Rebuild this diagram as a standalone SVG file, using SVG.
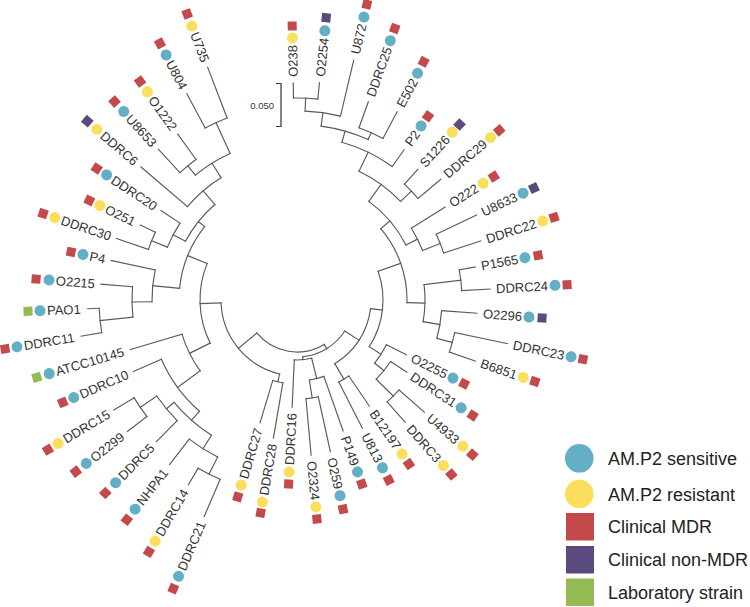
<svg xmlns="http://www.w3.org/2000/svg" width="750" height="607" viewBox="0 0 750 607">
<style>
.t{font-family:"Liberation Sans",Arial,Helvetica,sans-serif;font-size:13px;fill:#333}
.r{text-anchor:end}
.b{fill:#62AFC6}.y{fill:#FBDF5C}.m{fill:#C4494B}.p{fill:#5B4A7E}.g{fill:#94BA53}
.lg{font-family:"Liberation Sans",Arial,Helvetica,sans-serif;font-size:18px;fill:#222}
#connectors circle,#connectors path{fill:none;stroke:#5a5a5a;stroke-width:1.15;stroke-linecap:square}
</style>
<rect width="750" height="607" fill="#fff"/>
<g id="connectors" transform="translate(297,300)">
<circle r="202" stroke-dasharray="24.33 5000" transform="rotate(-91)"/>
<circle r="189" stroke-dasharray="35.79 5000" transform="rotate(-87.55)"/>
<circle r="183" stroke-dasharray="26.19 5000" transform="rotate(-70.2)"/>
<circle r="175.5" stroke-dasharray="49.01 5000" transform="rotate(-82.1)"/>
<circle r="164" stroke-dasharray="56.1 5000" transform="rotate(-74.1)"/>
<circle r="158" stroke-dasharray="19.85 5000" transform="rotate(-47.2)"/>
<circle r="143" stroke-dasharray="51.66 5000" transform="rotate(-64.3)"/>
<circle r="154" stroke-dasharray="20.16 5000" transform="rotate(-25.3)"/>
<circle r="135" stroke-dasharray="24.86 5000" transform="rotate(-32.1)"/>
<circle r="122" stroke-dasharray="57.81 5000" transform="rotate(-53.95)"/>
<circle r="165" stroke-dasharray="20.88 5000" transform="rotate(-10.5)"/>
<circle r="161" stroke-dasharray="20.23 5000" transform="rotate(11.7)"/>
<circle r="145" stroke-dasharray="28.09 5000" transform="rotate(4.2)"/>
<circle r="128" stroke-dasharray="37.2 5000" transform="rotate(-6.9)"/>
<circle r="110" stroke-dasharray="80.25 5000" transform="rotate(-40.4)"/>
<circle r="136" stroke-dasharray="16.85 5000" transform="rotate(41.4)"/>
<circle r="112" stroke-dasharray="22.77 5000" transform="rotate(33.3)"/>
<circle r="100" stroke-dasharray="21.82 5000" transform="rotate(26.6)"/>
<circle r="86" stroke-dasharray="78.58 5000" transform="rotate(-19.5)"/>
<circle r="92" stroke-dasharray="11.72 5000" transform="rotate(55.7)"/>
<circle r="99" stroke-dasharray="12.44 5000" transform="rotate(77.6)"/>
<circle r="81" stroke-dasharray="14.99 5000" transform="rotate(70.6)"/>
<circle r="74" stroke-dasharray="68 5000" transform="rotate(6.7)"/>
<circle r="84" stroke-dasharray="10.34 5000" transform="rotate(99.7)"/>
<circle r="60" stroke-dasharray="17.49 5000" transform="rotate(75.9)"/>
<circle r="57" stroke-dasharray="50.99 5000" transform="rotate(33)"/>
<circle r="195" stroke-dasharray="24.67 5000" transform="rotate(113.2)"/>
<circle r="176" stroke-dasharray="33.64 5000" transform="rotate(116.8)"/>
<circle r="190" stroke-dasharray="22.55 5000" transform="rotate(142.2)"/>
<circle r="170" stroke-dasharray="32.04 5000" transform="rotate(134.8)"/>
<circle r="160" stroke-dasharray="49.99 5000" transform="rotate(122.3)"/>
<circle r="148" stroke-dasharray="64.96 5000" transform="rotate(131.25)"/>
<circle r="120" stroke-dasharray="41.15 5000" transform="rotate(143.8)"/>
<circle r="198" stroke-dasharray="24.54 5000" transform="rotate(170.5)"/>
<circle r="165" stroke-dasharray="30.38 5000" transform="rotate(174.05)"/>
<circle r="145" stroke-dasharray="32.14 5000" transform="rotate(179.3)"/>
<circle r="157" stroke-dasharray="18.63 5000" transform="rotate(198.8)"/>
<circle r="140" stroke-dasharray="27.12 5000" transform="rotate(202.2)"/>
<circle r="195" stroke-dasharray="24.16 5000" transform="rotate(241.9)"/>
<circle r="173" stroke-dasharray="20.83 5000" transform="rotate(227.4)"/>
<circle r="161" stroke-dasharray="41.03 5000" transform="rotate(230.85)"/>
<circle r="144" stroke-dasharray="44.48 5000" transform="rotate(220.45)"/>
<circle r="126" stroke-dasharray="47.39 5000" transform="rotate(207.75)"/>
<circle r="118" stroke-dasharray="67.65 5000" transform="rotate(185.65)"/>
<circle r="97" stroke-dasharray="82.11 5000" transform="rotate(153.6)"/>
<circle r="76" stroke-dasharray="99.02 5000" transform="rotate(103.2)"/>
<circle r="52" stroke-dasharray="74.33 5000" transform="rotate(58.6)"/>
<path d="M202 0H217" transform="rotate(-91)"/>
<path d="M202 0H218.5" transform="rotate(-84.1)"/>
<path d="M189 0H246.5" transform="rotate(-76.7)"/>
<path d="M183 0H210.6" transform="rotate(-70.2)"/>
<path d="M183 0H213.2" transform="rotate(-62)"/>
<path d="M164 0H184.6" transform="rotate(-54.5)"/>
<path d="M158 0H178" transform="rotate(-47.2)"/>
<path d="M158 0H187.6" transform="rotate(-40)"/>
<path d="M135 0H174.8" transform="rotate(-32.1)"/>
<path d="M154 0H198.7" transform="rotate(-25.3)"/>
<path d="M154 0H193" transform="rotate(-17.8)"/>
<path d="M165 0H181.2" transform="rotate(-10.5)"/>
<path d="M165 0H193.4" transform="rotate(-3.25)"/>
<path d="M145 0H180.5" transform="rotate(4.2)"/>
<path d="M161 0H214.9" transform="rotate(11.7)"/>
<path d="M161 0H188.5" transform="rotate(18.9)"/>
<path d="M100 0H122.3" transform="rotate(26.6)"/>
<path d="M112 0H131.4" transform="rotate(33.3)"/>
<path d="M136 0H169.8" transform="rotate(41.4)"/>
<path d="M136 0H163.2" transform="rotate(48.5)"/>
<path d="M92 0H128.6" transform="rotate(55.7)"/>
<path d="M92 0H144" transform="rotate(63)"/>
<path d="M81 0H138.8" transform="rotate(70.6)"/>
<path d="M99 0H155.5" transform="rotate(77.6)"/>
<path d="M99 0H155.8" transform="rotate(84.8)"/>
<path d="M60 0H107.2" transform="rotate(92.6)"/>
<path d="M84 0H140" transform="rotate(99.7)"/>
<path d="M84 0H128.3" transform="rotate(106.75)"/>
<path d="M195 0H235.6" transform="rotate(113.2)"/>
<path d="M195 0H214.7" transform="rotate(120.45)"/>
<path d="M176 0H208" transform="rotate(127.75)"/>
<path d="M170 0H199.6" transform="rotate(134.8)"/>
<path d="M190 0H214.5" transform="rotate(142.2)"/>
<path d="M190 0H213.6" transform="rotate(149)"/>
<path d="M148 0H178.6" transform="rotate(156.4)"/>
<path d="M120 0H174" transform="rotate(163.45)"/>
<path d="M198 0H218.9" transform="rotate(170.5)"/>
<path d="M198 0H209.5" transform="rotate(177.6)"/>
<path d="M165 0H196.7" transform="rotate(184.6)"/>
<path d="M145 0H190" transform="rotate(192)"/>
<path d="M157 0H190.8" transform="rotate(198.8)"/>
<path d="M157 0H173.8" transform="rotate(205.6)"/>
<path d="M140 0H162.8" transform="rotate(213.3)"/>
<path d="M144 0H205.2" transform="rotate(220.45)"/>
<path d="M173 0H204.7" transform="rotate(227.4)"/>
<path d="M173 0H204.3" transform="rotate(234.3)"/>
<path d="M195 0H233.8" transform="rotate(241.9)"/>
<path d="M195 0H249.4" transform="rotate(249)"/>
<path d="M189 0H202" transform="rotate(-87.55)"/>
<path d="M175.5 0H189" transform="rotate(-82.1)"/>
<path d="M175.5 0H183" transform="rotate(-66.1)"/>
<path d="M164 0H175.5" transform="rotate(-74.1)"/>
<path d="M143 0H164" transform="rotate(-64.3)"/>
<path d="M143 0H158" transform="rotate(-43.6)"/>
<path d="M122 0H143" transform="rotate(-53.95)"/>
<path d="M135 0H154" transform="rotate(-21.55)"/>
<path d="M122 0H135" transform="rotate(-26.8)"/>
<path d="M110 0H122" transform="rotate(-40.4)"/>
<path d="M128 0H165" transform="rotate(-6.9)"/>
<path d="M145 0H161" transform="rotate(15.3)"/>
<path d="M128 0H145" transform="rotate(9.75)"/>
<path d="M110 0H128" transform="rotate(1.4)"/>
<path d="M86 0H110" transform="rotate(-19.5)"/>
<path d="M112 0H136" transform="rotate(44.95)"/>
<path d="M100 0H112" transform="rotate(39.1)"/>
<path d="M86 0H100" transform="rotate(32.85)"/>
<path d="M74 0H86" transform="rotate(6.7)"/>
<path d="M74 0H92" transform="rotate(59.35)"/>
<path d="M81 0H99" transform="rotate(81.2)"/>
<path d="M60 0H81" transform="rotate(75.9)"/>
<path d="M57 0H74" transform="rotate(33)"/>
<path d="M57 0H60" transform="rotate(84.25)"/>
<path d="M52 0H57" transform="rotate(58.6)"/>
<path d="M76 0H84" transform="rotate(103.2)"/>
<path d="M176 0H195" transform="rotate(116.8)"/>
<path d="M160 0H176" transform="rotate(122.3)"/>
<path d="M170 0H190" transform="rotate(145.6)"/>
<path d="M160 0H170" transform="rotate(140.2)"/>
<path d="M148 0H160" transform="rotate(131.25)"/>
<path d="M120 0H148" transform="rotate(143.8)"/>
<path d="M97 0H120" transform="rotate(153.6)"/>
<path d="M165 0H198" transform="rotate(174.05)"/>
<path d="M145 0H165" transform="rotate(179.3)"/>
<path d="M118 0H145" transform="rotate(185.65)"/>
<path d="M140 0H157" transform="rotate(202.2)"/>
<path d="M126 0H140" transform="rotate(207.75)"/>
<path d="M161 0H195" transform="rotate(245.45)"/>
<path d="M161 0H173" transform="rotate(230.85)"/>
<path d="M144 0H161" transform="rotate(238.15)"/>
<path d="M126 0H144" transform="rotate(229.3)"/>
<path d="M118 0H126" transform="rotate(218.5)"/>
<path d="M97 0H118" transform="rotate(202.1)"/>
<path d="M76 0H97" transform="rotate(177.85)"/>
<path d="M52 0H76" transform="rotate(140.5)"/>
</g>
<g id="leaves" transform="translate(297,300)">
<g id="n-O238" transform="rotate(-91)"><text class="t r" x="255" y="4.6">O238</text><circle class="y" cx="262" r="5.5"/><rect class="m" x="269.5" y="-4.5" width="9" height="9"/></g>
<g id="n-O2254" transform="rotate(-84.1)"><text class="t r" x="263.6" y="4.6">O2254</text><circle class="b" cx="270.6" r="5.5"/><rect class="p" x="279.2" y="-4.5" width="9" height="9"/></g>
<g id="n-U872" transform="rotate(-76.7)"><text class="t r" x="283.8" y="4.6">U872</text><circle class="b" cx="290.8" r="5.5"/><rect class="m" x="299.2" y="-4.5" width="9" height="9"/></g>
<g id="n-DDRC25" transform="rotate(-70.2)"><text class="t r" x="268.6" y="4.6">DDRC25</text><circle class="b" cx="275.6" r="5.5"/><rect class="m" x="284.1" y="-4.5" width="9" height="9"/></g>
<g id="n-E502" transform="rotate(-62)"><text class="t r" x="249.8" y="4.6">E502</text><circle class="b" cx="256.8" r="5.5"/><rect class="m" x="265.3" y="-4.5" width="9" height="9"/></g>
<g id="n-P2" transform="rotate(-54.5)"><text class="t r" x="206.7" y="4.6">P2</text><circle class="b" cx="213.7" r="5.5"/><rect class="m" x="221.1" y="-4.5" width="9" height="9"/></g>
<g id="n-S1226" transform="rotate(-47.2)"><text class="t r" x="221.6" y="4.6">S1226</text><circle class="y" cx="228.6" r="5.5"/><rect class="p" x="234.7" y="-4.5" width="9" height="9"/></g>
<g id="n-DDRC29" transform="rotate(-40)"><text class="t r" x="245.6" y="4.6">DDRC29</text><circle class="y" cx="252.6" r="5.5"/><rect class="m" x="259.5" y="-4.5" width="9" height="9"/></g>
<g id="n-O222" transform="rotate(-32.1)"><text class="t r" x="212.7" y="4.6">O222</text><circle class="y" cx="219.7" r="5.5"/><rect class="m" x="227.8" y="-4.5" width="9" height="9"/></g>
<g id="n-U8633" transform="rotate(-25.3)"><text class="t r" x="243" y="4.6">U8633</text><circle class="b" cx="250" r="5.5"/><rect class="p" x="257.5" y="-4.5" width="9" height="9"/></g>
<g id="n-DDRC22" transform="rotate(-17.8)"><text class="t r" x="251" y="4.6">DDRC22</text><circle class="y" cx="258" r="5.5"/><rect class="m" x="265.5" y="-4.5" width="9" height="9"/></g>
<g id="n-P1565" transform="rotate(-10.5)"><text class="t r" x="224.8" y="4.6">P1565</text><circle class="b" cx="231.8" r="5.5"/><rect class="m" x="240.7" y="-4.5" width="9" height="9"/></g>
<g id="n-DDRC24" transform="rotate(-3.25)"><text class="t r" x="251.4" y="4.6">DDRC24</text><circle class="b" cx="258.4" r="5.5"/><rect class="m" x="266" y="-4.5" width="9" height="9"/></g>
<g id="n-O2296" transform="rotate(4.2)"><text class="t r" x="225.6" y="4.6">O2296</text><circle class="b" cx="232.6" r="5.5"/><rect class="p" x="241.2" y="-4.5" width="9" height="9"/></g>
<g id="n-DDRC23" transform="rotate(11.7)"><text class="t r" x="272.9" y="4.6">DDRC23</text><circle class="b" cx="279.9" r="5.5"/><rect class="m" x="287.5" y="-4.5" width="9" height="9"/></g>
<g id="n-B6851" transform="rotate(18.9)"><text class="t r" x="232.1" y="4.6">B6851</text><circle class="y" cx="239.1" r="5.5"/><rect class="m" x="246.9" y="-4.5" width="9" height="9"/></g>
<g id="n-O2255" transform="rotate(26.6)"><text class="t r" x="167.4" y="4.6">O2255</text><circle class="b" cx="174.4" r="5.5"/><rect class="m" x="182.4" y="-4.5" width="9" height="9"/></g>
<g id="n-DDRC31" transform="rotate(33.3)"><text class="t r" x="189.4" y="4.6">DDRC31</text><circle class="b" cx="196.4" r="5.5"/><rect class="m" x="205.7" y="-4.5" width="9" height="9"/></g>
<g id="n-U4933" transform="rotate(41.4)"><text class="t r" x="214.1" y="4.6">U4933</text><circle class="y" cx="221.1" r="5.5"/><rect class="m" x="229.3" y="-4.5" width="9" height="9"/></g>
<g id="n-DDRC3" transform="rotate(48.5)"><text class="t r" x="214" y="4.6">DDRC3</text><circle class="y" cx="221" r="5.5"/><rect class="m" x="228.5" y="-4.5" width="9" height="9"/></g>
<g id="n-B12197" transform="rotate(55.7)"><text class="t r" x="179.4" y="4.6">B12197</text><circle class="y" cx="186.4" r="5.5"/><rect class="m" x="194.1" y="-4.5" width="9" height="9"/></g>
<g id="n-U813" transform="rotate(63)"><text class="t r" x="181.3" y="4.6">U813</text><circle class="b" cx="188.3" r="5.5"/><rect class="m" x="197.6" y="-4.5" width="9" height="9"/></g>
<g id="n-P149" transform="rotate(70.6)"><text class="t r" x="175.2" y="4.6">P149</text><circle class="b" cx="182.2" r="5.5"/><rect class="m" x="190.6" y="-4.5" width="9" height="9"/></g>
<g id="n-O259" transform="rotate(77.6)"><text class="t r" x="193.4" y="4.6">O259</text><circle class="b" cx="200.4" r="5.5"/><rect class="m" x="209.7" y="-4.5" width="9" height="9"/></g>
<g id="n-O2324" transform="rotate(84.8)"><text class="t r" x="200.9" y="4.6">O2324</text><circle class="y" cx="207.9" r="5.5"/><rect class="m" x="215.4" y="-4.5" width="9" height="9"/></g>
<g id="n-DDRC16"><text class="t" transform="rotate(-87.4)" x="-165.2" y="4.6">DDRC16</text><g transform="rotate(92.6)"><circle class="y" cx="172.2" r="5.5"/><rect class="m" x="179.7" y="-4.5" width="9" height="9"/></g></g>
<g id="n-DDRC28"><text class="t" transform="rotate(-80.3)" x="-198" y="4.6">DDRC28</text><g transform="rotate(99.7)"><circle class="y" cx="205" r="5.5"/><rect class="m" x="211.5" y="-4.5" width="9" height="9"/></g></g>
<g id="n-DDRC27"><text class="t" transform="rotate(-73.25)" x="-186.3" y="4.6">DDRC27</text><g transform="rotate(106.75)"><circle class="y" cx="193.3" r="5.5"/><rect class="m" x="201.1" y="-4.5" width="9" height="9"/></g></g>
<g id="n-DDRC21"><text class="t" transform="rotate(-66.8)" x="-293.6" y="4.6">DDRC21</text><g transform="rotate(113.2)"><circle class="b" cx="300.6" r="5.5"/><rect class="m" x="309.5" y="-4.5" width="9" height="9"/></g></g>
<g id="n-DDRC14"><text class="t" transform="rotate(-59.55)" x="-272.7" y="4.6">DDRC14</text><g transform="rotate(120.45)"><circle class="y" cx="279.7" r="5.5"/><rect class="m" x="287.7" y="-4.5" width="9" height="9"/></g></g>
<g id="n-NHPA1"><text class="t" transform="rotate(-52.25)" x="-257.5" y="4.6">NHPA1</text><g transform="rotate(127.75)"><circle class="b" cx="264.5" r="5.5"/><rect class="m" x="273.5" y="-4.5" width="9" height="9"/></g></g>
<g id="n-DDRC5"><text class="t" transform="rotate(-45.2)" x="-250.4" y="4.6">DDRC5</text><g transform="rotate(134.8)"><circle class="b" cx="257.4" r="5.5"/><rect class="m" x="267.5" y="-4.5" width="9" height="9"/></g></g>
<g id="n-O2299"><text class="t" transform="rotate(-37.8)" x="-259.6" y="4.6">O2299</text><g transform="rotate(142.2)"><circle class="b" cx="266.6" r="5.5"/><rect class="m" x="275.5" y="-4.5" width="9" height="9"/></g></g>
<g id="n-DDRC15"><text class="t" transform="rotate(-31)" x="-271.6" y="4.6">DDRC15</text><g transform="rotate(149)"><circle class="y" cx="278.6" r="5.5"/><rect class="m" x="286.1" y="-4.5" width="9" height="9"/></g></g>
<g id="n-DDRC10"><text class="t" transform="rotate(-23.6)" x="-236.6" y="4.6">DDRC10</text><g transform="rotate(156.4)"><circle class="b" cx="243.6" r="5.5"/><rect class="m" x="251.1" y="-4.5" width="9" height="9"/></g></g>
<g id="n-ATCC10145"><text class="t" transform="rotate(-16.55)" x="-251.5" y="4.6">ATCC10145</text><g transform="rotate(163.45)"><circle class="b" cx="258.5" r="5.5"/><rect class="g" x="266.9" y="-4.5" width="9" height="9"/></g></g>
<g id="n-DDRC11"><text class="t" transform="rotate(-9.5)" x="-276.9" y="4.6">DDRC11</text><g transform="rotate(170.5)"><circle class="b" cx="283.9" r="5.5"/><rect class="m" x="291.5" y="-4.5" width="9" height="9"/></g></g>
<g id="n-PAO1"><text class="t" transform="rotate(-2.4)" x="-250.2" y="4.6">PAO1</text><g transform="rotate(177.6)"><circle class="b" cx="257.2" r="5.5"/><rect class="g" x="264.7" y="-4.5" width="9" height="9"/></g></g>
<g id="n-O2215"><text class="t" transform="rotate(4.6)" x="-241.8" y="4.6">O2215</text><g transform="rotate(184.6)"><circle class="b" cx="248.8" r="5.5"/><rect class="m" x="257.3" y="-4.5" width="9" height="9"/></g></g>
<g id="n-P4"><text class="t" transform="rotate(12)" x="-211.9" y="4.6">P4</text><g transform="rotate(192)"><circle class="b" cx="218.9" r="5.5"/><rect class="m" x="226.5" y="-4.5" width="9" height="9"/></g></g>
<g id="n-DDRC30"><text class="t" transform="rotate(18.8)" x="-248.8" y="4.6">DDRC30</text><g transform="rotate(198.8)"><circle class="y" cx="255.8" r="5.5"/><rect class="m" x="263.7" y="-4.5" width="9" height="9"/></g></g>
<g id="n-O251"><text class="t" transform="rotate(25.6)" x="-211.7" y="4.6">O251</text><g transform="rotate(205.6)"><circle class="y" cx="218.7" r="5.5"/><rect class="m" x="225.8" y="-4.5" width="9" height="9"/></g></g>
<g id="n-DDRC20"><text class="t" transform="rotate(33.3)" x="-220.8" y="4.6">DDRC20</text><g transform="rotate(213.3)"><circle class="b" cx="227.8" r="5.5"/><rect class="m" x="235.1" y="-4.5" width="9" height="9"/></g></g>
<g id="n-DDRC6"><text class="t" transform="rotate(40.45)" x="-256" y="4.6">DDRC6</text><g transform="rotate(220.45)"><circle class="y" cx="263" r="5.5"/><rect class="p" x="271.1" y="-4.5" width="9" height="9"/></g></g>
<g id="n-U8653"><text class="t" transform="rotate(47.4)" x="-249" y="4.6">U8653</text><g transform="rotate(227.4)"><circle class="b" cx="256" r="5.5"/><rect class="m" x="265.1" y="-4.5" width="9" height="9"/></g></g>
<g id="n-O1222"><text class="t" transform="rotate(54.3)" x="-249.4" y="4.6">O1222</text><g transform="rotate(234.3)"><circle class="y" cx="256.4" r="5.5"/><rect class="m" x="264.5" y="-4.5" width="9" height="9"/></g></g>
<g id="n-U804"><text class="t" transform="rotate(61.9)" x="-270.8" y="4.6">U804</text><g transform="rotate(241.9)"><circle class="b" cx="277.8" r="5.5"/><rect class="m" x="286.5" y="-4.5" width="9" height="9"/></g></g>
<g id="n-U735"><text class="t" transform="rotate(69)" x="-286.4" y="4.6">U735</text><g transform="rotate(249)"><circle class="y" cx="293.4" r="5.5"/><rect class="m" x="301.9" y="-4.5" width="9" height="9"/></g></g>
</g>
<g id="scale-bar">
<path d="M276 83.5H281V126.5H276" fill="none" stroke="#333" stroke-width="1.2"/>
<text x="274" y="109" text-anchor="end" font-family="Liberation Sans, Arial, sans-serif" font-size="9.5" fill="#333">0.050</text>
</g>
<g id="legend">
<circle class="b" cx="579.3" cy="458.3" r="14.3"/><text class="lg" x="608" y="465">AM.P2 sensitive</text>
<circle class="y" cx="579.3" cy="494" r="14.3"/><text class="lg" x="608" y="501">AM.P2 resistant</text>
<rect class="m" x="566" y="513" width="28" height="27.5"/><text class="lg" x="608" y="533">Clinical MDR</text>
<rect class="p" x="566" y="546" width="28" height="27.5"/><text class="lg" x="608" y="566">Clinical non-MDR</text>
<rect class="g" x="566" y="578.5" width="28" height="27.5"/><text class="lg" x="608" y="599">Laboratory strain</text>
</g>
</svg>
